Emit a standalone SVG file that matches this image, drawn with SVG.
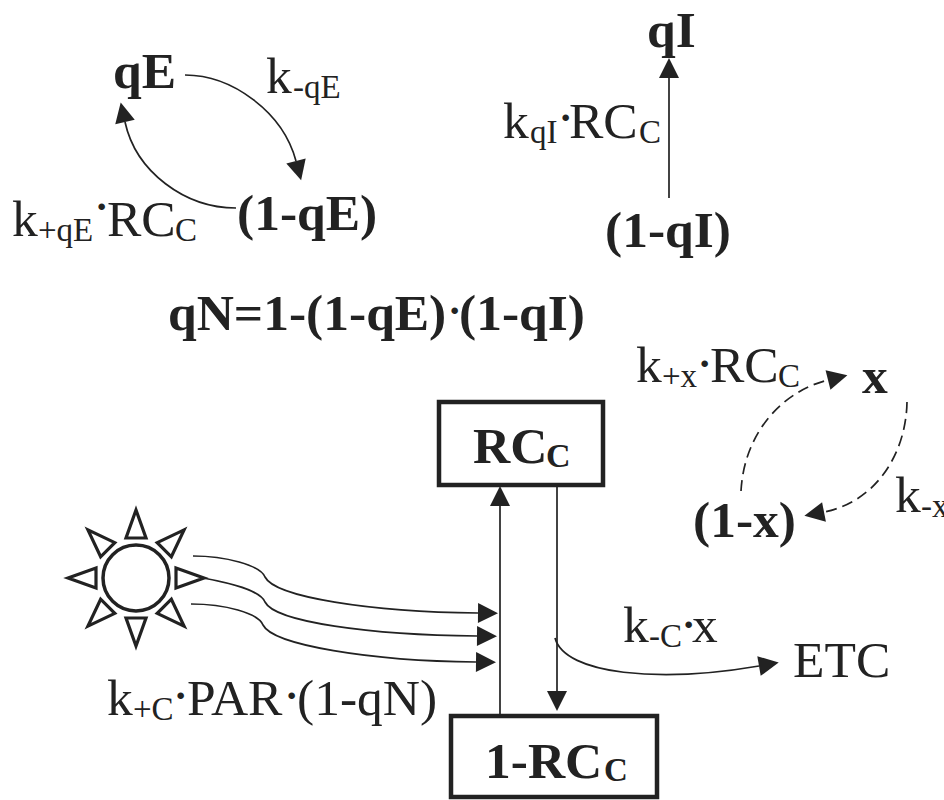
<svg xmlns="http://www.w3.org/2000/svg" width="944" height="800" viewBox="0 0 944 800">
<style>
text{font-family:"Liberation Serif","Times New Roman",serif;fill:#222;font-size:51.5px}
.b{font-weight:700}
.s{font-size:33px}
.d{font-weight:700;font-size:40px}
.ln{fill:none;stroke:#222;stroke-width:1.7}
.dash{stroke-dasharray:11 6}
.box{fill:#fff;stroke:#222;stroke-width:4.5}
.ray{fill:#fff;stroke:#222;stroke-width:3.2;stroke-linejoin:miter}
</style>
<defs>
<marker id="ah" markerUnits="userSpaceOnUse" markerWidth="22" markerHeight="22" refX="0" refY="10" orient="auto" overflow="visible"><path d="M0 0L20 10L0 20Z" fill="#222"/></marker>
<polygon id="tri" points="136,510 126,538 146,538" class="ray"/>
</defs>
<rect width="944" height="800" fill="#fff"/>
<g id="connectors">
<path class="ln" marker-end="url(#ah)" d="M185 75C232 75 283 112 296 161"/>
<path class="ln" marker-end="url(#ah)" d="M236 208C185 208 136 172 125 122"/>
<path class="ln" marker-end="url(#ah)" d="M669 198V78"/>
<path class="ln dash" marker-end="url(#ah)" d="M741 491C744 435 780 392 828 380"/>
<path class="ln dash" marker-end="url(#ah)" d="M907 402C906 455 875 502 824 512"/>
<path class="ln" marker-end="url(#ah)" d="M500 714V506"/>
<path class="ln" marker-end="url(#ah)" d="M557 487V691"/>
<path class="ln" marker-end="url(#ah)" d="M555 638C565 675 660 683 759 666"/>
<path class="ln" marker-end="url(#ah)" d="M193 556C225 556 260 565 265 577C275 597 370 612 478 613"/>
<path class="ln" marker-end="url(#ah)" d="M203 578C230 583 260 590 265 602C275 622 370 635 477 636"/>
<path class="ln" marker-end="url(#ah)" d="M191 604C225 604 258 613 263 625C273 645 370 661 476 662"/>
</g>
<g id="node-qE"><text class="b" x="113" y="88">qE</text></g>
<g id="label-kmqE"><text x="266" y="93">k<tspan class="s" x="293" y="98">-qE</tspan></text></g>
<g id="node-1-qE"><text class="b" x="237" y="230">(1-qE)</text></g>
<g id="label-kpqE"><text x="12" y="236">k<tspan class="s" x="38" y="241">+qE</tspan><tspan class="d" x="95" y="220">·</tspan><tspan x="107" y="236">RC</tspan><tspan class="s" x="175" y="241">C</tspan></text></g>
<g id="node-qI"><text class="b" x="647" y="47">qI</text></g>
<g id="node-1-qI"><text class="b" x="605" y="247">(1-qI)</text></g>
<g id="label-kqI"><text x="503" y="138">k<tspan class="s" x="530" y="143">qI</tspan><tspan class="d" x="559" y="131">·</tspan><tspan x="569" y="138">RC</tspan><tspan class="s" x="639" y="143">C</tspan></text></g>
<g id="equation"><text class="b" x="168" y="330">qN=1-(1-qE)<tspan class="d" x="448" y="324">·</tspan><tspan x="459" y="330">(1-qI)</tspan></text></g>
<g id="node-x"><text class="b" x="862" y="393">x</text></g>
<g id="node-1-x"><text class="b" x="693" y="537">(1-x)</text></g>
<g id="label-kpx"><text x="636" y="382">k<tspan class="s" x="662" y="387">+x</tspan><tspan class="d" x="698" y="377">·</tspan><tspan x="710" y="382">RC</tspan><tspan class="s" x="778" y="387">C</tspan></text></g>
<g id="label-kmx"><text x="895" y="512">k<tspan class="s" x="921" y="517">-x</tspan></text></g>
<g id="node-RC"><rect class="box" x="439" y="402" width="164" height="83"/><text class="b" x="473" y="463">RC<tspan class="s" x="546" y="467" style="font-size:34px">C</tspan></text></g>
<g id="node-1-RC"><rect class="box" x="451" y="716" width="206" height="81"/><text class="b" x="485" y="778">1-RC<tspan class="s" x="604" y="781">C</tspan></text></g>
<g id="node-ETC"><text x="793" y="677">ETC</text></g>
<g id="label-kmC"><text x="623" y="642">k<tspan class="s" x="649" y="647">-C</tspan><tspan class="d" x="682" y="638">·</tspan><tspan x="692" y="642">x</tspan></text></g>
<g id="label-kpC"><text x="107" y="715">k<tspan class="s" x="133" y="720">+C</tspan><tspan class="d" x="174" y="709">·</tspan><tspan x="187" y="715">PAR</tspan><tspan class="d" x="285" y="709">·</tspan><tspan x="297" y="715">(1-qN)</tspan></text></g>
<g id="sun">
<circle cx="136" cy="578" r="33" fill="#fff" stroke="#222" stroke-width="3.5"/>
<use href="#tri"/><use href="#tri" transform="rotate(45 136 578)"/><use href="#tri" transform="rotate(90 136 578)"/><use href="#tri" transform="rotate(135 136 578)"/><use href="#tri" transform="rotate(180 136 578)"/><use href="#tri" transform="rotate(225 136 578)"/><use href="#tri" transform="rotate(270 136 578)"/><use href="#tri" transform="rotate(315 136 578)"/>
</g>
</svg>
